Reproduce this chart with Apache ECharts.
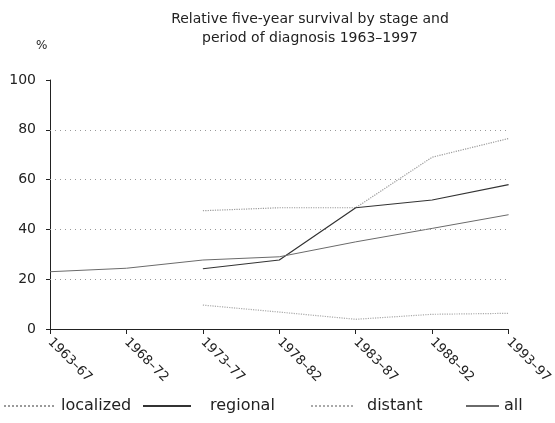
<!DOCTYPE html>
<html><head><meta charset="utf-8">
<script src="https://cdn.jsdelivr.net/npm/echarts@6/dist/echarts.min.js"></script>
<style>html,body{margin:0;padding:0;background:#fff}#c{width:555px;height:423px}</style>
</head><body><div id="c"></div>
<script>
const categories = ['1963–67','1968–72','1973–77','1978–82','1983–87','1988–92','1993–97'];
const localized = [null, null, 47.5, 48.7, 48.7, 69, 76.5];
const regional  = [null, null, 24.2, 27.7, 48.7, 51.8, 58];
const distant   = [null, null, 9.6, 6.8, 3.9, 5.9, 6.3];
const all       = [23, 24.4, 27.7, 29, 35, 40.4, 45.9];
const gridValues = [20, 40, 60, 80];
const seriesNames = ['localized','regional','distant','all'];

const FONT = 'DejaVu Sans';
const chart = echarts.init(document.getElementById('c'), null, {renderer:'canvas'});
function line(name, data, color, type, width){
  return {name, type:'line', data, symbol:'none', connectNulls:false, silent:true,
    lineStyle:{color, width, type}, itemStyle:{color}};
}
const s0 = line(seriesNames[0], localized, '#9a9a9a', 'dotted', 1.2);
s0.markLine = {silent:true, symbol:'none', label:{show:false},
  lineStyle:{color:'#999', type:[1,4], width:1},
  data: gridValues.map(v=>({yAxis:v}))};
const legendPos = [
  {left:3, w:52, pad:0},
  {left:142, w:48, pad:14},
  {left:310, w:42, pad:9},
  {left:465, w:33, pad:0}
];
const legends = seriesNames.map((n,i)=>({
  top:398, left:legendPos[i].left, padding:0, itemWidth:legendPos[i].w, itemHeight:10, itemGap:0,
  itemStyle:{opacity:0},
  textStyle:{fontFamily:FONT, fontSize:16, color:'#222', padding:[0,0,0,legendPos[i].pad]},
  data:[n]
}));
chart.setOption({
  animation:false,
  textStyle:{fontFamily:FONT},
  title:{text:'Relative five-year survival by stage and\nperiod of diagnosis 1963–1997', left:305, top:5, textAlign:'center',
    textStyle:{fontFamily:FONT, fontWeight:'normal', fontSize:14, color:'#222', lineHeight:19}},
  graphic:[{type:'text', left:36, top:40, style:{text:'%', font:'12px "'+FONT+'"', fill:'#222'}}],
  grid:{left:50, right:42, top:80, bottom:94},
  legend:legends,
  xAxis:{type:'category', data:categories, boundaryGap:false,
    axisLine:{lineStyle:{color:'#222', width:1}},
    axisTick:{show:true, alignWithLabel:true, length:5, lineStyle:{color:'#222'}},
    axisLabel:{rotate:-45, fontFamily:FONT, fontSize:13, color:'#222', margin:11, interval:0},
    splitLine:{show:false}},
  yAxis:{type:'value', min:0, max:100, interval:20,
    axisLine:{show:true, lineStyle:{color:'#222', width:1}},
    axisTick:{show:true, length:4, lineStyle:{color:'#222'}},
    axisLabel:{fontFamily:FONT, fontSize:14, color:'#222', margin:14},
    splitLine:{show:false}},
  series:[
    s0,
    line(seriesNames[1], regional, '#333', 'solid', 1.2),
    line(seriesNames[2], distant, '#aaa', 'dotted', 1.2),
    line(seriesNames[3], all, '#6a6a6a', 'solid', 1)
  ]
});
</script></body></html>
